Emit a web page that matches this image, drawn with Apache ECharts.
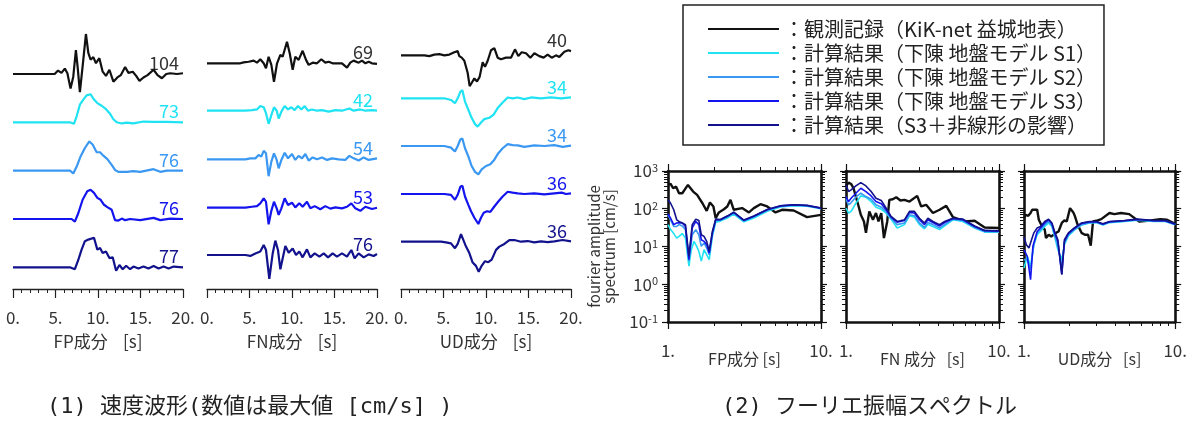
<!DOCTYPE html>
<html>
<head>
<meta charset="utf-8">
<script src="https://cdn.jsdelivr.net/npm/echarts@6/dist/echarts.min.js"></script>
<style>
html, body { margin: 0; padding: 0; background: #fff; }
#main { width: 1190px; height: 423px; }
</style>
</head>
<body>
<div id="main"></div>
<script>
// 系列名と色
var seriesNames = ['観測記録（KiK-net 益城地表）', '計算結果（下陳 地盤モデル S1）', '計算結果（下陳 地盤モデル S2）', '計算結果（下陳 地盤モデル S3）', '計算結果（S3＋非線形の影響）'];
var seriesColors = ['#111111', '#1fe3f2', '#3a98f2', '#1414ee', '#12128c'];

// 速度波形 [時間 s, 速度 cm/s]
var fpObs = [[0,0],[4.9,0],[5.3,9],[5.5,6],[5.7,3],[6.1,14],[6.4,2],[6.77,-38],[7.09,-7],[7.4,62],[7.6,19],[7.87,-47],[8.27,37],[8.58,104],[8.86,55],[9.13,37],[9.45,44],[9.76,28],[10.16,41],[10.55,6],[10.94,-5],[11.34,11],[11.81,-20],[12.28,-9],[12.68,-3],[13.19,18],[13.58,3],[14.09,6],[14.49,-5],[14.88,-18],[15.35,-9],[15.83,-3],[16.54,11],[17.0,-3],[17.52,-11],[18.03,0],[18.5,2],[19.29,0],[20,2]];
var fpS1 = [[0,0],[6.7,0],[6.89,-5],[7.17,-4],[7.48,15],[7.87,46],[8.27,59],[8.66,70],[9.13,73],[9.53,59],[9.92,50],[10.43,43],[10.94,34],[11.42,22],[11.81,8],[12.2,0],[12.8,-3],[13.39,-1],[14.17,-3],[15.35,2],[16.54,1],[18.1,1],[20,0]];
var fpS2 = [[0,0],[6.7,0],[7.09,-7],[7.48,10],[7.95,37],[8.46,59],[8.98,76],[9.37,68],[9.84,48],[10.24,48],[10.63,39],[11.1,30],[11.61,15],[12.0,2],[12.4,-3],[13.39,-3],[14.17,-1],[14.96,-3],[16.54,4],[17.32,-3],[18.11,0],[20,0]];
var fpS3 = [[0,0],[6.5,0],[6.89,0],[7.28,-7],[7.68,15],[8.19,50],[8.74,72],[9.13,76],[9.53,68],[9.92,55],[10.31,50],[10.71,37],[11.1,31],[11.61,24],[12.0,-3],[12.4,-4],[12.8,1],[13.19,-3],[13.78,0],[14.96,-3],[16.54,3],[17.32,-3],[18.5,1],[20,0]];
var fpNL = [[0,0],[6.69,0],[6.89,-3],[7.28,-5],[7.68,19],[8.07,46],[8.46,68],[8.86,72],[9.53,77],[9.92,46],[10.24,50],[10.55,37],[10.94,41],[11.34,24],[11.73,26],[12.13,-9],[12.52,6],[12.91,-5],[13.31,4],[13.78,-5],[14.17,2],[14.76,-3],[15.35,2],[15.94,-3],[16.54,3.5],[17.13,-3],[17.72,2],[18.31,-3],[18.9,2],[20,0]];

var fnObs = [[0,0],[3.92,0],[4.31,3],[4.9,5],[5.49,8.5],[5.88,2],[6.27,13],[6.67,0],[6.94,-16],[7.25,21],[7.57,-5],[7.88,-59],[8.24,0],[8.63,27],[8.9,21],[9.41,69],[9.73,32],[10.08,-21],[10.39,21],[10.78,11],[11.25,40],[11.65,11],[11.96,-5],[12.43,2],[12.94,0],[13.45,13],[13.92,2],[14.31,5],[14.78,0],[15.88,0],[16.47,-14],[16.86,2],[17.25,8.5],[17.84,2],[18.24,8.5],[18.63,0],[19.02,5],[19.41,0],[20,-2]];
var fnS1 = [[0,0],[4.51,0],[5.29,2],[5.88,4],[6.27,15],[6.67,11],[6.94,-8],[7.25,-42],[7.57,-14],[7.88,11],[8.2,0],[8.43,-25],[8.75,-3],[9.14,15],[9.53,4],[9.92,11],[10.31,2],[10.71,15],[11.1,4],[11.49,15],[11.88,0],[12.35,4],[12.94,0],[13.53,2],[14.31,-3],[15.1,2],[15.88,0],[16.75,7],[17.25,0],[18.04,4],[18.63,0],[19.41,2],[20,0]];
var fnS2 = [[0,0],[4.51,0],[5.1,3],[5.69,3],[6.08,14],[6.39,8.5],[6.67,27],[6.94,19],[7.25,-54],[7.57,-7.5],[7.88,19],[8.2,-2],[8.43,-29],[8.75,-2],[9.14,21],[9.53,3],[10.0,17],[10.39,-2],[10.78,11],[11.18,3],[11.57,17],[11.96,-4],[12.43,6],[12.94,0],[13.53,6],[14.12,-2],[14.71,3],[15.49,0],[16.27,-2],[16.75,11],[17.25,3],[17.84,-4],[18.43,6],[19.02,-2],[20,3]];
var fnS3 = [[0,0],[4.51,0],[5.29,3],[5.88,5],[6.27,14],[6.67,30],[6.94,19],[7.25,-53],[7.57,-10],[7.88,19],[8.2,-2],[8.43,-23],[8.75,-2],[9.14,30],[9.53,8.5],[10.0,16],[10.39,1],[10.86,14],[11.25,3],[11.76,19],[12.16,-2],[12.67,5],[13.33,-5],[13.92,5],[14.51,-3],[15.1,1],[15.88,-2],[16.47,3],[16.98,14],[17.45,-2],[18.04,-10],[18.63,3],[19.41,-4],[20,0]];
var fnNL = [[0,0],[4.51,0],[5.1,-3],[5.69,5],[6.27,11],[6.67,32],[6.94,16],[7.33,-76],[7.73,5],[8.04,46],[8.35,16],[8.63,-46],[8.9,-11],[9.22,29],[9.61,7.5],[10.08,21],[10.47,0],[10.86,11],[11.25,-7.5],[11.76,18],[12.16,-7.5],[12.67,5],[13.22,-5],[13.73,5],[14.24,-7.5],[14.78,5],[15.29,-5],[15.88,5],[16.47,-5],[16.98,16],[17.37,-11],[17.84,5],[18.43,-7.5],[19.02,2],[19.61,-3],[20,3]];

var udObs = [[0,0],[2.75,0],[3.33,-1],[3.92,1],[4.51,1.5],[5.1,0],[5.69,1],[6.27,4],[6.67,5.5],[6.86,-1],[7.14,-3],[7.45,-7],[7.84,-22.6],[8.08,-40],[8.31,-36],[8.63,-30],[8.94,-34],[9.25,-28],[9.61,-9],[9.88,-15],[10.2,-7],[10.59,6.6],[10.98,9.4],[11.37,-3],[11.76,-5],[12.35,-3],[12.94,-3],[13.41,7.8],[13.8,-1],[14.2,4],[14.71,2.7],[15.22,-3],[15.69,2.7],[16.27,-1],[16.78,-3],[17.25,1],[17.73,-3],[18.24,0],[18.63,-2],[19.22,4.7],[19.69,6.6],[20,5.5]];
var udS1 = [[0,0],[5.1,0],[5.88,-2],[6.35,-5.9],[6.67,0],[6.98,7.8],[7.22,9.8],[7.53,-3.9],[7.92,-13.7],[8.31,-23.4],[8.71,-31],[9.02,-34],[9.41,-29],[9.8,-25],[10.39,-23.4],[10.9,-19.5],[11.37,-11.7],[11.96,-5],[12.55,1],[13.14,0],[13.73,1],[14.51,-1],[15.29,1],[16.47,0],[17.65,1],[18.82,0],[20,1]];
var udS2 = [[0,0],[5.1,0],[5.88,-2],[6.35,-6.6],[6.67,0],[6.98,7.8],[7.22,9],[7.53,-2.7],[7.92,-12.5],[8.31,-24],[8.71,-31],[9.1,-34],[9.49,-28],[10.0,-24],[10.51,-22],[10.98,-16.4],[11.45,-8.6],[11.96,-2.7],[12.55,2.3],[13.14,1],[13.73,0.8],[14.51,-1],[15.69,0.8],[16.86,0],[18.04,1],[19.02,-1],[20,0.4]];
var udS3 = [[0,0],[5.1,0],[5.88,-1],[6.35,-7],[6.67,-1],[6.98,8.6],[7.22,9.8],[7.53,-3],[7.92,-13],[8.24,-20.7],[8.63,-28.5],[9.1,-36],[9.41,-28.5],[9.73,-22.6],[10.12,-20.7],[10.51,-21.5],[10.98,-15],[11.45,-9],[11.96,-3],[12.55,2.7],[13.14,1.6],[13.73,0.8],[14.51,0],[15.69,0.8],[16.86,-0.4],[18.04,0.8],[18.9,1.6],[19.41,0],[20,0.8]];
var udNL = [[0,0],[4.71,0],[5.29,-0.8],[5.88,-2],[6.35,-7.8],[6.67,-2.7],[7.06,9],[7.29,7.8],[7.65,-5.9],[8.04,-13.7],[8.43,-25],[8.82,-29],[9.14,-36],[9.49,-29],[9.88,-23.4],[10.27,-24.6],[10.67,-21.5],[11.18,-9.8],[11.57,-5.9],[12.16,-2.7],[12.75,2],[13.33,2],[14.12,0],[14.9,0.8],[15.69,-0.8],[16.47,0.4],[17.25,-0.4],[18.04,0.4],[19.02,2],[20,0.4]];

// 最大値ラベル [cm/s]
var peakFP = [104, 73, 76, 76, 77];
var peakFN = [69, 42, 54, 53, 76];
var peakUD = [40, 34, 34, 36, 36];

// フーリエ振幅スペクトル [周期 s, 振幅 cm/s]
var fpSpecObs = [[1,428],[1.04,454],[1.08,349],[1.13,386],[1.18,258],[1.24,258],[1.35,428],[1.46,285],[1.55,233],[1.68,140],[1.79,88],[1.88,146],[1.98,115],[2.05,56],[2.15,80],[2.32,97],[2.44,115],[2.56,172],[2.69,94],[3.05,104],[3.38,80],[3.64,104],[4.02,132],[4.45,115],[5.04,80],[5.57,94],[6.63,90],[8.1,60],[10,69]];
var fpSpecS1 = [[1,38],[1.04,28],[1.09,22],[1.14,16.7],[1.18,18.5],[1.24,22],[1.3,16.7],[1.37,3.0],[1.42,8.2],[1.48,13.7],[1.54,10.1],[1.59,7.5],[1.65,4.1],[1.72,8.2],[1.79,6.1],[1.86,4.5],[1.95,18.5],[2.05,44],[2.2,47],[2.44,57],[2.69,72],[3.13,45],[3.64,57],[4.45,86],[5.43,112],[6.63,120],[8.1,117],[10,100]];
var fpSpecS2 = [[1,69],[1.04,51],[1.09,34],[1.14,34],[1.18,38],[1.24,35],[1.3,28],[1.37,4.1],[1.44,20.5],[1.52,28],[1.59,20.5],[1.65,10.1],[1.72,12.4],[1.79,9.1],[1.86,6.1],[1.95,20.5],[2.05,49],[2.2,50],[2.44,61],[2.69,77],[3.13,48],[3.64,61],[4.45,91],[5.43,116],[6.63,124],[8.1,120],[10,102]];
var fpSpecS3 = [[1,73],[1.04,56],[1.09,38],[1.14,42],[1.18,43],[1.24,42],[1.3,34],[1.37,4.5],[1.44,31],[1.52,46],[1.59,38],[1.65,15.1],[1.72,13.7],[1.79,11.2],[1.86,6.7],[1.95,23],[2.05,51],[2.2,51],[2.44,63],[2.69,80],[3.13,49],[3.64,63],[4.45,94],[5.43,119],[6.63,127],[8.1,122],[10,104]];
var fpSpecNL = [[1,172],[1.04,140],[1.09,94],[1.14,51],[1.18,46],[1.24,42],[1.3,38],[1.37,5.5],[1.44,38],[1.52,53],[1.59,49],[1.65,20.5],[1.72,18.5],[1.79,13.7],[1.86,7.5],[1.95,25],[2.05,53],[2.2,52],[2.44,64],[2.69,81],[3.13,50],[3.64,64],[4.45,95],[5.43,120],[6.63,128],[8.1,123],[10,105]];

var fnSpecObs = [[1,402],[1.04,492],[1.08,454],[1.12,349],[1.16,210],[1.21,115],[1.25,69],[1.31,46],[1.35,23],[1.42,85],[1.5,51],[1.57,77],[1.63,46],[1.7,77],[1.77,16.7],[1.86,46],[1.92,172],[2.02,179],[2.13,202],[2.27,165],[2.41,172],[2.6,155],[2.92,219],[3.1,115],[3.34,127],[3.7,77],[4.09,94],[4.52,119],[5.0,60],[5.96,46],[6.93,48],[8.06,32],[10,31]];
var fnSpecS1 = [[1,104],[1.04,77],[1.08,85],[1.16,140],[1.25,219],[1.35,202],[1.46,155],[1.57,110],[1.7,97],[1.83,77],[1.97,53],[2.16,31],[2.41,38],[2.6,65],[2.8,60],[3.02,38],[3.26,29.5],[3.43,39],[3.7,34],[4.09,28],[4.41,35],[5.0,51],[5.81,46],[6.93,31],[8.06,24.1],[10,24.1]];
var fnSpecS2 = [[1,179],[1.04,127],[1.08,146],[1.16,202],[1.25,258],[1.35,210],[1.46,179],[1.57,127],[1.7,110],[1.83,85],[1.97,56],[2.16,38],[2.41,42],[2.6,69],[2.8,65],[3.02,42],[3.26,32],[3.43,43],[3.7,38],[4.09,31],[4.41,38],[5.0,53],[5.81,49],[6.93,32],[8.06,25],[10,24.6]];
var fnSpecS3 = [[1,210],[1.04,155],[1.08,190],[1.16,258],[1.25,349],[1.35,285],[1.46,219],[1.57,155],[1.7,135],[1.83,94],[1.97,60],[2.16,44],[2.41,49],[2.6,80],[2.8,77],[3.02,51],[3.26,38],[3.43,51],[3.7,43],[4.09,35],[4.41,43],[5.0,55],[5.81,51],[6.93,34],[8.06,26.2],[10,25.6]];
var fnSpecNL = [[1,427],[1.04,285],[1.08,315],[1.16,402],[1.25,492],[1.35,402],[1.46,285],[1.57,190],[1.7,165],[1.83,104],[1.97,63],[2.16,46],[2.41,51],[2.6,85],[2.8,85],[3.02,56],[3.26,42],[3.43,56],[3.7,46],[4.09,38],[4.41,46],[5.0,56],[5.81,53],[6.93,35],[8.06,26.7],[10,26.2]];

var udSpecObs = [[1,56],[1.025,69],[1.067,65],[1.105,77],[1.133,94],[1.18,94],[1.222,94],[1.253,51],[1.284,56],[1.317,34],[1.371,28],[1.398,16.7],[1.455,20.5],[1.515,18.5],[1.569,20.5],[1.625,23],[1.692,25],[1.778,42],[1.851,49],[1.917,46],[2.016,104],[2.119,80],[2.173,63],[2.262,38],[2.401,23],[2.525,20.5],[2.654,20.5],[2.763,10.5],[2.861,46],[3.008,48],[3.243,53],[3.675,77],[3.962,72],[4.378,77],[4.963,72],[5.768,46],[6.871,49],[7.985,53],[8.826,51],[10,40]];
var udSpecS1 = [[1,2.7],[1.051,5.5],[1.105,3.0],[1.162,11.2],[1.222,20.5],[1.284,25],[1.371,34],[1.455,42],[1.53,34],[1.593,18.5],[1.675,8.2],[1.778,4.5],[1.851,11.2],[1.966,19],[2.151,27],[2.401,37],[2.722,42],[3.008,43],[3.325,37],[3.675,43],[4.603,46],[5.623,50],[7.223,46],[8.606,46],[10,38]];
var udSpecS2 = [[1,4.5],[1.051,4.5],[1.105,2.45],[1.162,11.2],[1.222,23],[1.284,28],[1.371,38],[1.455,46],[1.53,36],[1.593,20.5],[1.675,10.1],[1.778,3.0],[1.851,12.4],[1.966,20.5],[2.151,28],[2.401,38],[2.722,43],[3.008,44],[3.325,38],[3.675,44],[4.603,47],[5.623,51],[7.223,47],[8.606,47],[10,38]];
var udSpecS3 = [[1,8.2],[1.051,5.5],[1.105,1.33],[1.145,10.1],[1.222,25],[1.284,31],[1.371,42],[1.455,51],[1.53,40],[1.593,23],[1.675,13.7],[1.778,1.81],[1.851,13.7],[1.966,22],[2.151,30],[2.401,41],[2.722,45],[3.008,45],[3.325,39],[3.675,45],[4.603,48],[5.623,52],[7.223,48],[8.606,48],[10,39]];
var udSpecNL = [[1,17.8],[1.036,11.2],[1.078,9.1],[1.122,15.1],[1.162,23],[1.222,31],[1.284,34],[1.371,46],[1.455,53],[1.53,42],[1.593,25],[1.675,15.1],[1.778,1.81],[1.851,15.1],[1.966,23],[2.151,31],[2.401,42],[2.722,46],[3.008,46],[3.325,40],[3.675,46],[4.603,49],[5.623,53],[7.223,49],[8.606,49],[10,40]];

var FONT = '"Noto Sans CJK JP", "Noto Sans", sans-serif';
var CAPFONT = '"DejaVu Sans Mono", "Noto Sans CJK JP", monospace';
var TXT = '#333';

// 波形パネルのレイアウト
var wavePanels = [
	{ left: 13,  base: [74, 122.3, 170.7, 219, 267.3], k: 2.6,  traces: [fpObs, fpS1, fpS2, fpS3, fpNL], peaks: peakFP, name: 'FP成分    [s]' },
	{ left: 207, base: [63.3, 110.7, 159.3, 207.7, 255], k: 3.2, traces: [fnObs, fnS1, fnS2, fnS3, fnNL], peaks: peakFN, name: 'FN成分    [s]' },
	{ left: 401, base: [50.7, 98.3, 146, 194, 241.7], k: 1.2, traces: [udObs, udS1, udS2, udS3, udNL], peaks: peakUD, name: 'UD成分    [s]' }
];
var WAVE_W = 170;

// スペクトルパネル
var specPanels = [
	{ left: 668,  traces: [fpSpecObs, fpSpecS1, fpSpecS2, fpSpecS3, fpSpecNL], name: 'FP成分 [s]' },
	{ left: 846,  traces: [fnSpecObs, fnSpecS1, fnSpecS2, fnSpecS3, fnSpecNL], name: 'FN 成分   [s]' },
	{ left: 1024, traces: [udSpecObs, udSpecS1, udSpecS2, udSpecS3, udSpecNL], name: 'UD成分   [s]' }
];
var SPEC_TOP = 171, SPEC_W = 153, SPEC_H = 151;

var grids = [], xAxes = [], yAxes = [], series = [], graphics = [];

wavePanels.forEach(function (p) {
	p.traces.forEach(function (tr, i) {
		var g = grids.length;
		grids.push({ left: p.left, width: WAVE_W, top: p.base[i] - 60, height: 120 });
		xAxes.push({ gridIndex: g, type: 'value', min: 0, max: 20, show: false });
		yAxes.push({ gridIndex: g, type: 'value', min: -60 * p.k, max: 60 * p.k, show: false });
		series.push({
			name: seriesNames[i], type: 'line', xAxisIndex: xAxes.length - 1, yAxisIndex: yAxes.length - 1,
			data: tr, showSymbol: false, symbol: 'none', clip: false, silent: true,
			color: seriesColors[i], lineStyle: { color: seriesColors[i], width: 2.2 }
		});
		// 最大値の数字
		graphics.push({
			type: 'text', x: p.left + WAVE_W - 4, y: p.base[i] - 11, silent: true,
			style: { text: String(p.peaks[i]), fill: i === 0 ? TXT : seriesColors[i], font: '18px ' + FONT, align: 'right', verticalAlign: 'middle' }
		});
	});
	// 時間軸
	var g = grids.length;
	grids.push({ left: p.left, width: WAVE_W, top: 250, height: 39 });
	xAxes.push({
		gridIndex: g, type: 'value', min: 0, max: 20, interval: 5,
		axisLine: { onZero: false, lineStyle: { color: '#222', width: 1.3 } },
		axisTick: { length: 9, lineStyle: { color: '#222', width: 1.2 } },
		minorTick: { show: true, splitNumber: 5, length: 4, lineStyle: { color: '#222', width: 1 } },
		splitLine: { show: false },
		axisLabel: { margin: 20, color: TXT, fontSize: 17, fontFamily: FONT, formatter: function (v) { return v + '.'; } },
		name: p.name, nameLocation: 'middle', nameGap: 44,
		nameTextStyle: { color: TXT, fontSize: 17, fontFamily: FONT }
	});
	yAxes.push({ gridIndex: g, type: 'value', min: 0, max: 1, show: false });
});

var logTick = { length: 7, lineStyle: { color: '#111', width: 1.2 } };
var logMinor = { show: true, splitNumber: 9, length: 4, lineStyle: { color: '#111', width: 1 } };
var frameLine = { onZero: false, lineStyle: { color: '#111', width: 2.6 } };

specPanels.forEach(function (p, pi) {
	var g = grids.length;
	grids.push({ left: p.left, width: SPEC_W, top: SPEC_TOP, height: SPEC_H });
	var xi = xAxes.length, yi = yAxes.length;
	xAxes.push({
		gridIndex: g, type: 'log', logBase: 10, min: 1, max: 10, position: 'bottom',
		axisLine: frameLine, axisTick: logTick, minorTick: logMinor, splitLine: { show: false }, minorSplitLine: { show: false },
		axisLabel: { margin: 20, color: TXT, fontSize: 17, fontFamily: FONT, formatter: function (v) { return v + '.'; } },
		name: p.name, nameLocation: 'middle', nameGap: 29, nameMoveOverlap: false,
		nameTextStyle: { color: TXT, fontSize: 16, fontFamily: FONT }
	});
	xAxes.push({
		gridIndex: g, type: 'log', logBase: 10, min: 1, max: 10, position: 'top',
		axisLine: frameLine, axisTick: logTick, minorTick: logMinor, splitLine: { show: false }, axisLabel: { show: false }
	});
	yAxes.push({
		gridIndex: g, type: 'log', logBase: 10, min: 0.1, max: 1000, position: 'left',
		axisLine: frameLine, axisTick: { length: 6, lineStyle: { color: '#111', width: 1.2 } }, minorTick: logMinor,
		splitLine: { show: false },
		axisLabel: {
			show: pi === 0, margin: 10,
			formatter: function (v) { return '{b|10}{s|' + Math.round(Math.log10(v)) + '}'; },
			rich: {
				b: { fontSize: 17, color: TXT, fontFamily: FONT },
				s: { fontSize: 11, color: TXT, fontFamily: FONT, verticalAlign: 'top' }
			}
		},
		name: pi === 0 ? 'fourier amplitude\nspectrum [cm/s]' : '', nameLocation: 'middle', nameGap: 51, nameRotate: 90,
		nameMoveOverlap: false,
		nameTextStyle: { color: TXT, fontSize: 15, fontFamily: FONT, lineHeight: 15 }
	});
	yAxes.push({
		gridIndex: g, type: 'log', logBase: 10, min: 0.1, max: 1000, position: 'right',
		axisLine: frameLine, axisTick: { length: 6, lineStyle: { color: '#111', width: 1.2 } }, minorTick: logMinor,
		splitLine: { show: false }, axisLabel: { show: false }
	});
	p.traces.forEach(function (tr, i) {
		series.push({
			name: seriesNames[i], type: 'line', xAxisIndex: xi, yAxisIndex: yi,
			data: tr, showSymbol: false, symbol: 'none', silent: true,
			color: seriesColors[i], lineStyle: { color: seriesColors[i], width: i === 0 ? 2.4 : 1.6 }
		});
	});
});

// 図の見出し
graphics.push({
	type: 'text', left: 47, top: 396, silent: true,
	style: { text: '(1) 速度波形(数値は最大値 [cm/s] )', fill: '#222', font: '22px ' + CAPFONT }
});
graphics.push({
	type: 'text', left: 722, top: 396, silent: true,
	style: { text: '(2) フーリエ振幅スペクトル', fill: '#222', font: '22px ' + CAPFONT }
});

var chart = echarts.init(document.getElementById('main'), null, { renderer: 'canvas' });
chart.setOption({
	animation: false,
	backgroundColor: '#fff',
	textStyle: { fontFamily: FONT },
	legend: {
		data: seriesNames, orient: 'vertical', left: 683, top: 5,
		padding: [14, 8, 10, 25], itemGap: 4, itemWidth: 71, itemHeight: 20,
		icon: 'path://M0,0H71V2H0Z', selectedMode: false,
		borderColor: '#222', borderWidth: 1.5,
		formatter: function (n) { return '：' + n; },
		textStyle: { color: '#222', fontSize: 20, fontFamily: FONT }
	},
	grid: grids,
	xAxis: xAxes,
	yAxis: yAxes,
	series: series,
	graphic: graphics
});
</script>
</body>
</html>
